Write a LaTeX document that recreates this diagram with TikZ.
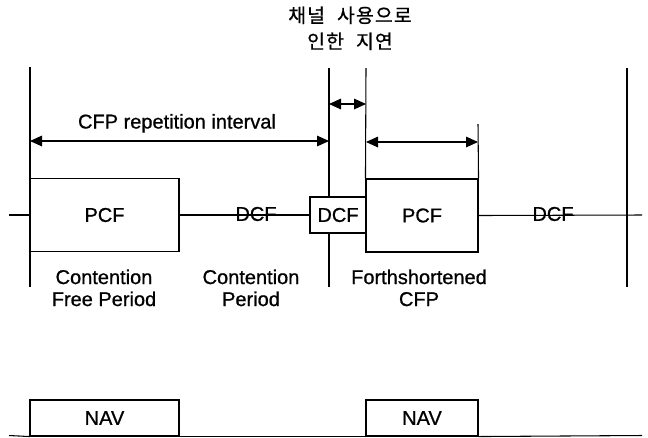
\documentclass[tikz,border=0pt]{standalone}
\usepackage{fontspec}
\setmainfont{Liberation Sans}
\newfontfamily\enfont{Liberation Sans}[FakeBold=0.8]
\newfontfamily\kofont{Noto Sans CJK KR}[LetterSpace=6, WordSpace=2.2, FakeBold=0.8]
\usetikzlibrary{arrows.meta}
\begin{document}
\begin{tikzpicture}[x=0.75pt,y=-0.75pt,
  line width=0.8pt,
  box/.style={draw, rectangle, inner sep=0pt, font=\enfont\fontsize{15}{16.5}\selectfont},
  lbl/.style={font=\enfont\fontsize{15}{16.5}\selectfont, align=center, inner sep=0pt},
  kolbl/.style={font=\kofont\fontsize{14.5}{19.5}\selectfont, align=center, inner sep=0pt},
  dimarrow/.style={{Triangle[length=9pt,width=8pt]}-{Triangle[length=9pt,width=8pt]}},
]
\useasboundingbox (0,0) rectangle (648,437);

% boxes
\node[box, minimum width=111.75pt, minimum height=54.75pt] (pcfA) at (104.5,215) {PCF};
\node[box, minimum width=42pt, minimum height=27pt] (dcfB) at (338,215) {DCF};
\node[box, minimum width=84pt, minimum height=54.75pt] (pcfB) at (422,215.5) {PCF};
\node[box, minimum width=111.75pt, minimum height=27pt] (navA) at (104.5,418) {NAV};
\node[box, minimum width=84pt, minimum height=27pt] (navB) at (422,418) {NAV};

% coordinates
\coordinate (tlL) at (9,215);
\coordinate (tlR) at (642,215);
\coordinate (blL) at (9,435.5);
\coordinate (blR) at (642,435.5);
\coordinate (v1t) at (30,67);
\coordinate (v1b) at (30,287);
\coordinate (v2t) at (329,68);
\coordinate (v2b) at (329,287);
\coordinate (v3t) at (366,68);
\coordinate (v4t) at (478,124);
\coordinate (v5t) at (627,68);
\coordinate (v5b) at (627,287);
\coordinate (aL) at (30,141);
\coordinate (aM) at (329,141);
\coordinate (sL) at (329,104);
\coordinate (sR) at (366,104);
\coordinate (bL) at (366,142);
\coordinate (bR) at (478,142);

% time line
\draw (tlL) -- (pcfA.west);
\draw (pcfA.east) -- (dcfB.west);
\draw (pcfB.east) -- (tlR);
\draw (blL) -- (navA.south west);
\draw (navA.south east) -- (navB.south west);
\draw (navB.south east) -- (blR);

% vertical lines
\draw (v1t) -- (v1b);
\draw (v2t) -- (v2t |- dcfB.north);
\draw (v2t |- dcfB.south) -- (v2b);
\draw (v3t) -- (pcfB.north west);
\draw (v4t) -- (pcfB.north east);
\draw (v5t) -- (v5b);

% arrows
\draw[dimarrow] (aL) -- (aM);
\draw[dimarrow] (sL) -- (sR);
\draw[dimarrow] (bL) -- (bR);

% labels
\node[kolbl, anchor=north] (ko) at (350,6) {채널 사용으로\\인한 지연};
\node[lbl, anchor=base] (cfp) at (177,128.5) {CFP repetition interval};
\node[lbl] (dcfA) at (256,214) {DCF};
\node[lbl] (dcfC) at (553,214) {DCF};
\node[lbl, anchor=north] (cfpd) at (104,269) {Contention\\Free Period};
\node[lbl, anchor=north] (cp) at (251,269) {Contention\\Period};
\node[lbl, anchor=north] (fs) at (419,269) {Forthshortened\\CFP};
\end{tikzpicture}
\end{document}
